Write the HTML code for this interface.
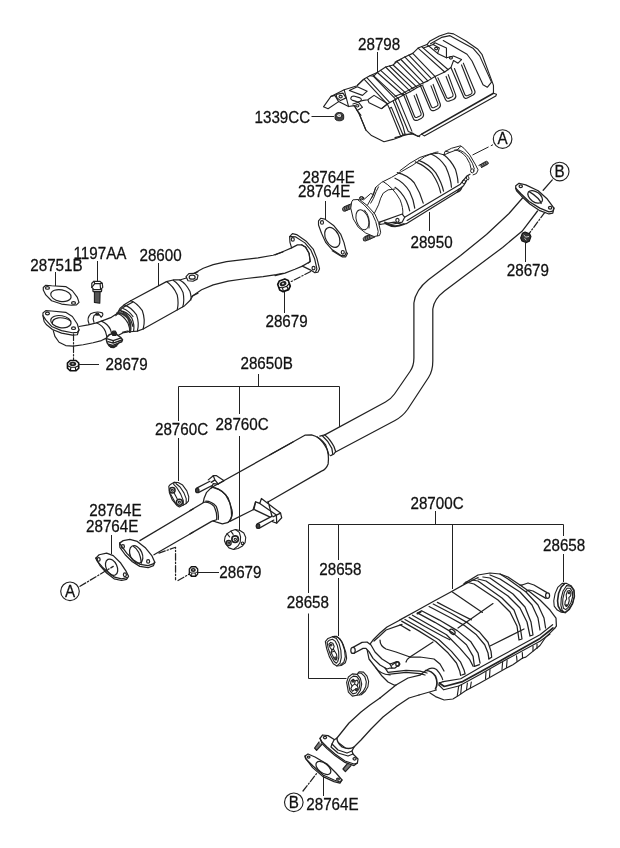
<!DOCTYPE html>
<html><head><meta charset="utf-8">
<style>
html,body{margin:0;padding:0;background:#fff;}
body{width:620px;height:848px;overflow:hidden;}
svg{display:block;will-change:transform;}
text{font-family:"Liberation Sans",sans-serif;font-size:15.2px;fill:#111;stroke:#111;stroke-width:0.25px;}
.l{stroke:#222;stroke-width:1;fill:none;}
.p{stroke:#222;stroke-width:1;fill:none;stroke-linejoin:round;stroke-linecap:round;}
.pw{fill:#fff;}
.d{stroke:#222;stroke-width:1;fill:none;stroke-dasharray:7 2 1.5 2;}
</style></head><body>
<svg width="620" height="848" viewBox="0 0 620 848">
<rect width="620" height="848" fill="#fff"/>

<!--PARTS-->
<!--conv-->
<g id="conv">
<g transform="translate(335,150) scale(0.16611)" class="p" style="stroke-width:6">
<!-- left part 6.02x -->
<!-- studs -->
<path d="M102 322L52 343Q40 352 48 366L58 369L108 348" style="fill:#777"/>
<path d="M60 341Q52 352 62 367M72 336Q64 348 73 362M84 331Q76 343 85 357" />
<path d="M232 500L178 522Q165 532 172 546L183 548L240 524" style="fill:#777"/>
<path d="M186 519Q178 531 188 546M198 514Q190 526 199 541M210 509Q202 521 211 536"/>
<!-- flange -->
<path d="M110 300L135 298L150 300L195 335L240 385L262 435L275 495L268 515L255 517L235 521L185 500L140 465L110 415L95 350L100 315Z" class="pw"/>
<path d="M135 298L175 330L225 385L245 430L260 490L255 517"/>
<ellipse cx="165" cy="420" rx="36" ry="62" transform="rotate(-18 165 420)"/>
<path d="M178 362Q215 400 205 470"/>
<ellipse cx="160" cy="290" rx="13" ry="10" class="pw"/>
<ellipse cx="160" cy="288" rx="7" ry="5"/>
<!-- cone + body top -->
<path d="M172 300L215 262L232 268L220 290"/>
<path d="M195 333L228 272L245 225L280 195L340 165L400 130L470 90L540 40L600 15L620 12"/>
<path d="M215 320L232 290L248 250L262 222"/>
<path d="M232 268L245 225"/>
<path d="M235 385L262 330L275 290L290 260L320 240L360 235"/>
<!-- ribs -->
<path d="M290 190Q350 225 392 300Q412 350 408 385"/>
<!-- lower shield -->
</g>
<g transform="translate(400,130) scale(0.16611)" class="p" style="stroke-width:6">
<!-- right part 6.02x -->
<path d="M0 245L60 200L120 165L180 145L230 140L265 150L270 130L310 110L365 95L385 110L420 150L455 210L470 240L460 262L440 270"/>
<path d="M275 128L300 135L345 118L365 100"/>
<path d="M265 150L300 135"/>
<path d="M330 120Q370 125 400 165Q425 200 430 240"/>
<path d="M345 118Q385 125 415 165Q440 200 448 235"/>
<!-- stud -->
<path d="M475 213L520 188Q532 190 532 203L490 226" style="fill:#777"/>
<path d="M488 207Q492 215 496 222M500 200Q504 208 508 216M512 194Q516 202 520 210"/>
<!-- ribs -->
<!-- lower shield -->
<ellipse cx="385" cy="312" rx="10" ry="12" class="pw"/>
<ellipse cx="435" cy="246" rx="10" ry="12" class="pw"/>
<path d="M400 280Q395 300 412 300Q420 290 412 280"/>
</g>
<g transform="translate(370,160) scale(0.16129)" class="p" style="stroke-width:7.4">
<!-- lower shield 6.2x -->
<path d="M60 385L200 335L215 355L560 150L600 100L620 88"/>
<path d="M230 375L560 175L580 160L600 125"/>
<path d="M60 400L150 385L200 400L225 395L540 200L555 178"/>
<path d="M60 385L60 400"/>
<path d="M90 385L130 400L200 385L215 355"/>
<path d="M100 395Q150 425 210 398" style="stroke-width:12"/>
<ellipse cx="170" cy="374" rx="10" ry="12" class="pw"/>
<path d="M540 200Q560 195 570 170"/>
</g>
<g transform="translate(395,150) scale(0.11290)" class="p" style="stroke-width:10.5">
<!-- ribs 8.857x -->
<path d="M0 330Q60 370 100 450Q122 500 130 540"/>
<path d="M0 250Q80 285 130 370Q165 440 175 515"/>
<path d="M20 200Q110 220 170 290Q225 380 250 470"/>
<path d="M180 105Q270 140 330 210Q390 300 405 380"/>
<path d="M210 92Q300 125 360 200Q415 290 430 365"/>
<path d="M320 35Q400 70 450 150Q495 250 500 330"/>
<path d="M430 40Q495 90 535 170Q558 250 558 290"/>
</g>
</g>
<!--/conv-->


<!--muff-->
<g id="muff">
<g transform="translate(350,580) scale(0.2)" class="p" style="stroke-width:6.25">
<!-- left part 5x -->
<!-- top outline -->
<path d="M85 345L100 320L115 300L150 265L185 235L250 200"/>
<!-- left end/bottom shell -->
<path d="M85 345L95 395L130 440L160 480L190 510L220 525L230 525"/>
<path d="M130 440Q150 470 200 475"/>
<!-- hanger rod -->
<path d="M15 337L60 312L85 310L105 325L125 360L160 395L200 420L235 408L250 420L225 440L200 440L185 445L150 425L115 392L95 358L80 342L65 342L20 366" class="pw"/>
<ellipse cx="15" cy="352" rx="11" ry="15" class="pw"/>
<path d="M210 425L235 408M200 420L210 440"/>
<ellipse cx="238" cy="420" rx="9" ry="12"/>
<!-- strap -->
<path d="M175 440L190 462L280 452L350 456L385 465"/>
<path d="M190 472L280 462L350 468L375 475"/>
<!-- inner contour -->
<path d="M120 305L140 288L180 250L260 222"/>
<path d="M150 300Q150 330 180 345L230 360L300 385L350 385L420 395L450 420L470 455"/>
<path d="M300 385L415 310"/>
<path d="M300 385Q285 395 280 410"/>
<!-- ribs -->
<!-- seam right of pipe -->
<!-- outlet pipe -->
<path d="M379 452L350 476L290 490L230 525L150 590"/>
<path d="M432 550L345 575"/>
</g>
<g transform="translate(440,560) scale(0.2)" class="p" style="stroke-width:6.25">
<!-- right part 5x -->
<path d="M120 118L190 75L250 65L300 70L340 85L400 125L450 160L500 200L550 250L580 290L582 330L573 342"/>
<!-- ribs -->
<path d="M130 110L170 120L290 200L350 260L385 330L395 400L410 395L400 330L370 250L310 190L190 105L160 100"/>
<path d="M190 95L230 105L340 180L400 240L435 310L450 380L465 375L455 310L425 235L365 170L250 90L215 85"/>
<path d="M250 75L300 95L400 160L460 225L490 290L500 350"/>
<path d="M300 70L340 95L430 160L490 225L520 290L528 340"/>
<!-- center lines -->
<path d="M62 160L212 262M265 218L90 340"/>
<path d="M250 430L420 345"/>
<!-- rod -->
<path d="M535 163L470 125L440 115L410 125M530 192L465 155L445 150L430 157"/>
<ellipse cx="538" cy="178" rx="10" ry="14" class="pw"/>
<path d="M400 125L410 125"/>
</g>
<g transform="translate(400,570) scale(0.16611)" class="p" style="stroke-width:7.55">
<!-- middle ribs 6.02x -->
<path d="M0 300L100 245L200 190L300 135L390 85L470 45"/>
<path d="M10 308L110 365L215 430L290 500L340 560L360 610L365 635"/>
<path d="M30 298L130 355L235 420L310 490L365 555L385 600L392 625L372 632"/>
<path d="M55 285L150 340L260 400L300 420"/>
<path d="M75 272L175 330L280 390L360 470L420 540L440 580"/>
<path d="M105 258L210 315L320 380L400 450L440 520L448 580L478 570"/>
<path d="M130 245L235 300L345 365L425 430L470 500L482 560"/>
<path d="M175 220L290 280L390 335L460 390L510 450L530 500L535 535"/>
<path d="M200 205L310 262L410 320L480 375L530 435L548 490L552 525L535 535"/>
<path d="M225 195L330 250L430 300"/>
<path d="M0 330L60 365"/>
<ellipse cx="315" cy="372" rx="19" ry="12" transform="rotate(40 315 372)"/>
<path d="M105 262L125 250" style="stroke-width:12"/>
</g>
<g id="seam" class="p" style="stroke-width:1.15">
<path d="M426.8 670Q431.6 666.5 436.5 669.5Q441.5 675 442.7 679.7"/>
<path d="M425.8 670.5Q431.5 670.5 435.5 676.3Q438.5 683 435.5 688.9" style="stroke-width:1.7"/>
<path d="M443.2 681.6L460.7 678.7L480 667.6L500 656.5L540 634.8L552.6 624.7"/>
<path d="M439.4 683L444.2 686.5L462.6 681.6L480 672L500 661L540 638.4L553 628" style="stroke-width:1.7"/>
<path d="M438.9 685L443.7 689.8L458.7 686L462.6 684L480 674.5L500 662.9L540 641.3L550 634"/>
<path d="M439.4 683L443.2 681.6M438.9 685L439.4 683"/>
<path d="M429.7 692.8L435.5 696.6L444.2 700L452.9 699L457.8 696.1L465.5 690.8L480 683L506.5 668L512.9 664.8L522.6 658L525.8 657.1L540 645.5L545.3 637.7L554.7 628.3"/>
<path d="M458.7 686L457.3 695.7M461.6 685L460.7 693.7M467.4 683L466.5 689.8M471.3 682L470.3 688M486 671.5L485.5 679M490 669.5L489.5 677M502.6 662.3L502 669.5M507.1 660.3L506.5 667.4M516.5 655.8L517.1 661.5M522.3 652.6L522.6 658.4M533 646L533 651M537 644L537 648.5"/>
</g>
<g transform="translate(295,680) scale(0.2)" class="p" style="stroke-width:6.25">
<!-- bottom pipe + flange 5x -->
<path d="M425 90L375 125L330 160L270 215L230 265L210 290"/>
<path d="M620 75L570 90L510 130L440 185L380 245L330 300L295 335"/>
<!-- studs -->
<path d="M120 310L98 340L108 352L135 322" style="fill:#777"/>
<path d="M262 418L240 445L252 458L280 428" style="fill:#777"/>
<!-- flange -->
<path d="M125 292L138 275L165 278L200 300L290 370L315 395L312 415L295 428L250 412L200 378L160 343L135 318Z" class="pw"/>
<path d="M125 292L135 310L160 335L200 370L250 405L295 420L312 415"/>
<ellipse cx="150" cy="288" rx="8" ry="6"/>
<ellipse cx="298" cy="394" rx="8" ry="6"/>
<!-- ring -->
<path d="M210 290L195 300L185 320L180 335L215 365L265 380L290 370L285 355L295 335Q270 350 235 335Q210 315 210 290Z" class="pw"/>
<path d="M185 320L215 350L260 365L285 355"/>
<!-- gasket -->
<path d="M50 380L65 370L100 385L160 420L205 465L235 500L225 510L195 500L140 475L90 430L55 395Z" class="pw"/>
<path d="M50 380L52 390L88 438L140 483L195 508L225 516L235 500"/>
<ellipse cx="142" cy="440" rx="43" ry="24" transform="rotate(38 142 440)"/>
<ellipse cx="68" cy="385" rx="7" ry="5"/>
<ellipse cx="215" cy="495" rx="7" ry="5"/>
<path d="M40 555L110 465" style="stroke-dasharray:34 10 6 10"/>
</g>
</g>
<!--/muff-->


<!--reso-->
<g id="reso">
<g transform="translate(190,440) scale(0.16611)" class="p" style="stroke-width:7.55">
<!-- 6.02x left part of resonator -->
<!-- stud upper-left -->
<path d="M120 248L40 290Q30 300 38 314L50 317L130 275" class="pw"/>
<ellipse cx="44" cy="304" rx="10" ry="13" style="fill:#444"/>
<path d="M110 240L140 215L160 215L205 245L170 265L140 262L128 290"/>
<path d="M140 215L150 240L170 265M150 240L128 255"/>
<!-- body edges -->
<path d="M135 283L620 12"/>
<path d="M240 490L380 420"/>
<!-- end cap -->
<path d="M130 285Q175 285 215 330Q250 385 255 440Q252 480 225 498L195 505L160 495L140 487"/>
<path d="M150 290Q195 300 230 350Q252 405 250 460Q245 485 232 494"/>
<path d="M130 285L100 315L85 350L80 375"/>
<!-- neck ring -->
<path d="M80 375Q115 368 145 400Q165 440 160 480L140 487"/>
<path d="M95 368Q130 368 158 400Q175 440 170 478"/>
<path d="M0 425L80 378M0 565L130 490L140 487"/>
<!-- lower bracket -->
<path d="M380 420L395 372L420 382L430 352L545 440L552 468L522 500L497 492L495 465L470 370" />
<path d="M395 372L385 418L495 470"/>
<path d="M420 382L520 452L545 440M520 452L522 500M495 465L520 452"/>
<path d="M495 458L405 505Q395 515 402 530L415 532L505 482" class="pw"/>
<ellipse cx="410" cy="518" rx="10" ry="13" style="fill:#444"/>
</g>
<g transform="translate(270,400) scale(0.16611)" class="p" style="stroke-width:7.55">
<!-- right end 6.02x -->
<path d="M0 330L210 212L250 210Q300 222 335 270Q358 330 350 385Q338 418 310 428L-12 614"/>
<path d="M300 218L330 210Q362 235 385 280L395 310L385 325L365 335"/>
<path d="M285 222Q322 250 345 300L355 332"/>
<path d="M315 215Q350 245 372 290L378 326"/>
</g>
<g transform="translate(90,480) scale(0.16611)" class="p" style="stroke-width:7.55">
<!-- front flange, gasket 6.02x -->
<path d="M300 365L620 175M385 450L620 315"/>
<path d="M178 380L200 365L240 358L285 370L335 410L372 455L390 495L382 515L350 528L300 520L255 492L212 450L180 405Z" class="pw"/>
<path d="M178 380L190 398L222 442L262 482L302 508L350 516L380 505L390 495"/>
<ellipse cx="278" cy="448" rx="36" ry="56" transform="rotate(-25 278 448)"/>
<path d="M262 400Q300 420 310 500"/>
<ellipse cx="198" cy="400" rx="9" ry="11"/>
<ellipse cx="350" cy="490" rx="9" ry="11"/>
<!-- dash-dot -->
<path d="M415 440L515 405L515 600M530 605L600 565" style="stroke-dasharray:40 12 8 12"/>
<!-- gasket -->
<path d="M35 470L55 450L100 440L140 455L185 500L215 545L232 580L220 598L190 605L145 595L100 560L60 515Z" class="pw"/>
<path d="M35 470L45 490L75 525L105 552L148 585L190 595L222 588"/>
<ellipse cx="130" cy="525" rx="33" ry="52" transform="rotate(-25 130 525)"/>
<ellipse cx="52" cy="478" rx="9" ry="11"/>
<ellipse cx="210" cy="570" rx="9" ry="11"/>
<path d="M-60 640L140 520" style="stroke-dasharray:40 12 8 12"/>
<!-- nut -->
</g>
</g>
<!--/reso-->

<!--longpipe-->
<g id="longpipe">
<g class="p" style="stroke-width:1.24">
<path d="M522.5 198L509 213.5L486.5 234.5L460.6 255.5L428.4 279.7Q415.5 290 413.9 303L413.9 358Q413.9 366 410 371.5L394.5 394Q391 399 385.5 402L324.8 434.9"/>
<path d="M537.5 211L522 231.3L502.6 247.4L476.8 266.8L444.5 291Q434 299 432.8 309L432.8 361Q432.8 371 428.5 377.5L407.5 409.5Q402.5 416.5 395 420.5L335.6 452"/>
</g>
<g transform="translate(490,155) scale(0.16611)" class="p" style="stroke-width:7.55">
<path d="M155 185L175 170L215 180L290 215L345 265L385 320L378 350L355 355L300 335L240 295L190 248L160 215L155 200Z" class="pw"/>
<path d="M155 200L185 232L235 280L300 320L355 342L378 338L385 320"/>
<ellipse cx="272" cy="252" rx="50" ry="30" transform="rotate(36 272 252)"/>
<path d="M238 222Q262 235 290 262Q305 280 308 292"/>
<ellipse cx="185" cy="188" rx="10" ry="8"/>
<ellipse cx="362" cy="318" rx="10" ry="8"/>
<path d="M375 150L320 212"/>
<path d="M330 345L230 480" style="stroke-dasharray:40 12 8 12"/>
<!-- nut -->
</g>
</g>
<!--/longpipe-->

<!--p600-->
<g id="p600">
<g transform="translate(30,270) scale(0.16611)" class="p" style="stroke-width:7.08">
<!-- gasket 28751B -->
<path d="M80 105L95 92L130 95L215 100L255 125L285 165L295 195L280 210L250 212L190 205L130 185L95 150L80 120Z" class="pw"/>
<ellipse cx="186" cy="154" rx="62" ry="35" transform="rotate(10 186 154)"/>
<ellipse cx="105" cy="108" rx="12" ry="8"/>
<ellipse cx="262" cy="198" rx="12" ry="8"/>
<!-- elbow pipe -->
<path d="M140 365L150 400L175 435L215 455L260 458L320 450L380 438L430 425L460 410"/>
<path d="M295 340L350 330L400 318L450 300L490 285L520 265L540 245"/>
<!-- flange -->
<path d="M78 258L95 245L130 247L215 255L255 280L285 325L295 360L285 390L255 392L190 380L135 358L100 330L85 310L78 275Z" class="pw"/>
<path d="M78 275L95 300L130 340L190 365L255 378L285 375L295 360"/>
<ellipse cx="186" cy="311" rx="62" ry="36" transform="rotate(10 186 311)"/>
<path d="M135 325Q130 295 170 288Q215 285 240 305"/>
<ellipse cx="105" cy="262" rx="12" ry="8"/>
<ellipse cx="262" cy="350" rx="12" ry="8"/>
<!-- hook -->
<path d="M355 322Q340 290 365 264Q400 245 435 258Q445 270 428 284L418 270Q400 262 385 275Q375 295 385 315"/>
<ellipse cx="405" cy="266" rx="9" ry="6"/>
<!-- band -->
<path d="M400 318Q440 335 455 372L465 410"/>
<path d="M430 308Q470 325 485 360L495 395"/>
<!-- clamp bolt -->
<!-- bolt 1197AA -->
<path d="M372 80L385 68L420 68L435 80L438 105L425 118L385 118L372 105Z" class="pw"/>
<path d="M385 68L390 82L372 105M390 82L422 82L435 80M422 82L425 118"/>
<path d="M378 118L432 118L430 130L380 130Z" class="pw"/>
<path d="M388 130L388 195L420 200L422 130Z" style="fill:#555"/>
<!-- dashed to nut -->
<path d="M262 385L262 540" style="stroke-dasharray:40 12 8 12"/>
<!-- nut -->
<!-- flex ring right -->
<path d="M540 245L560 225L620 192"/>
<path d="M525 260Q565 275 590 320Q602 350 600 372"/>
<path d="M545 245Q585 262 608 305L620 340"/>
<path d="M560 232Q595 245 620 280"/>
</g>
<g transform="translate(95,265) scale(0.16611)" class="p" style="stroke-width:7.08">
<!-- small cat body 6.02x -->
<path d="M215 215L430 100L470 90L510 90L545 80L620 40"/>
<path d="M290 385L540 245L570 215L590 185L620 170"/>
<path d="M215 215Q250 225 285 275Q305 330 290 385"/>
<path d="M175 240Q212 250 250 300Q268 350 255 398"/>
<path d="M215 215L175 240L150 262L135 290"/>
<path d="M290 385L255 398L210 402"/>
<path d="M135 290Q170 285 200 320Q220 365 210 402" style="stroke-width:14;stroke:#333"/>
<path d="M150 275Q190 280 222 320Q240 360 232 400"/>
<path d="M125 305L140 290M165 405L195 397L210 402"/>
<path d="M470 92Q505 112 530 165Q540 215 528 252"/>
<path d="M510 90Q548 110 572 160Q582 195 576 212"/>
<path d="M430 100Q470 125 495 180Q505 230 495 270"/>
<!-- O2 boss -->
<path d="M548 70L565 52L600 50L620 62L615 85L590 98L560 95Z" class="pw"/>
<ellipse cx="585" cy="73" rx="18" ry="12"/>
</g>
<g transform="translate(180,240) scale(0.16611)" class="p" style="stroke-width:7.08">
<!-- pipe 6.02x -->
<path d="M85 200L140 170L200 148L280 130L380 118L470 108L560 92L620 72"/>
<path d="M70 340L130 300L200 270L290 248L400 232L500 220L580 208L620 200"/>
</g>
</g>
<g id="clamp" transform="translate(85,305) scale(0.080645)" class="p" style="stroke-width:15">
<path d="M420 372L480 342L520 336L560 322"/>
<path d="M270 400L300 370L340 355L400 370L440 400L465 430L455 455L420 470L390 500L340 520L300 505L275 470L265 430Z" class="pw" style="stroke-width:19"/>
<path d="M330 348L345 325L375 325L392 350L380 378L345 378Z" style="fill:#222"/>
<path d="M280 420L350 442L440 410M285 455L350 472L450 437M300 490L345 502L400 480M350 442L350 472" style="stroke-width:17"/>
<path d="M300 500L320 525L360 528L395 505" />
</g>
<!--/p600-->

<!--gask1-->
<g id="gask1" transform="translate(275,205) scale(0.16611)" class="p" style="stroke-width:7.08">
<!-- gasket -->
<path d="M262 95L275 80L300 85L355 125L395 175L415 225L430 285L420 305L400 305L345 270L305 225L280 170L262 120Z" class="pw"/>
<path d="M430 285L436 292L426 312L404 312L345 276"/>
<ellipse cx="345" cy="195" rx="40" ry="64" transform="rotate(-27 345 195)"/>
<ellipse cx="283" cy="105" rx="9" ry="11"/>
<ellipse cx="408" cy="285" rx="9" ry="11"/>
<!-- flange on pipe 28600 -->
<path d="M88 190L105 172L130 178L190 220L230 265L252 320L268 385L258 405L240 408L215 392L165 368L212 340L205 290L185 255L160 240L135 240L100 258L90 225Z" class="pw"/>
<path d="M100 190L125 192L180 228L215 270L238 322L252 385L245 402"/>
<path d="M88 190L100 190"/>
<ellipse cx="107" cy="207" rx="9" ry="11"/>
<ellipse cx="232" cy="380" rx="9" ry="11"/>
<!-- pipe end -->
<path d="M0 300L60 275L100 258M165 368L120 387L60 410L0 425"/>
<path d="M160 240L185 255L205 290L212 340L200 350"/>
<!-- dash-dot to nut -->
<path d="M215 400L95 462" style="stroke-dasharray:40 12 8 12"/>
<!-- nut -->
</g>
<!--/gask1-->


<!--shield-->
<g id="shield">
<g transform="translate(320,78) scale(0.12422)" class="p" style="stroke-width:8.97">
<!-- tab (8.05x) -->
<path d="M345 15L300 62L195 95L88 148L28 232L65 248L150 190L230 230L275 222L315 290L370 419"/>
<path d="M88 148L120 140L150 190"/>
<path d="M130 132L185 122L210 160L165 182L135 158Z"/>
<ellipse cx="166" cy="150" rx="13" ry="10"/>
<path d="M195 95L230 230"/>
<path d="M236 100L300 70L380 106L342 140Z"/>
<path d="M248 165Q250 145 272 145L322 160Q340 170 328 185Q315 195 295 190L258 178Q246 172 248 165Z"/>
<path d="M265 210L310 195L342 236L300 262L275 222"/>
<ellipse cx="300" cy="224" rx="13" ry="10"/>
<path d="M330 185L350 180L385 175L435 140L545 208L495 247L395 200L385 175"/>
<path d="M300 262L330 300"/>
</g>
<g transform="translate(320,60) scale(0.16613)" class="p" style="stroke-width:6.73">
<!-- left body (6.02x) -->
<path d="M480 0L465 6L440 30L395 42L345 75L300 95L265 115L225 152"/>
<path d="M235 320L275 420L310 455L385 492L440 478L490 460L500 447L560 447L600 462"/>
<path d="M372 292L405 265L440 245L500 212L545 190L585 165L620 150"/>
<path d="M405 265L418 292L482 450L490 460"/>
<path d="M440 248L452 275L500 400L512 447"/>
<path d="M418 292L430 285L498 447"/>
<path d="M265 115L405 265"/>
<path d="M282 106L420 256"/>
<path d="M300 95L322 98L458 238"/>
<path d="M322 98L345 75"/>
<path d="M319 91L472 232"/>
<path d="M345 75L500 212"/>
<path d="M365 62L520 202"/>
<path d="M395 42L545 190"/>
<path d="M418 36L565 178"/>
<path d="M440 30L585 165"/>
</g>
<g transform="translate(395,25) scale(0.17743)" class="p" style="stroke-width:6.37">
<!-- right body (5.636x) -->
<path d="M0 210L55 180L100 160L130 130L180 110L195 92L250 62L300 45L330 50L400 90L465 135L490 165L555 340L555 385L572 390L568 400L165 625L150 615L130 628L100 610L40 625L0 635"/>
<path d="M150 615L555 385" style="stroke-width:9"/>
<path d="M200 106L262 70L310 60L439 131L477 174L544 322L520 351L496 337L434 203L406 165L272 88"/>
<path d="M0 402L45 385L90 360L140 335L185 315L225 290L280 265L315 240L330 200"/>
<path d="M10 205L140 335"/>
<path d="M32 193L160 325"/>
<path d="M55 180L185 315"/>
<path d="M78 170L205 302"/>
<path d="M100 160L225 290"/>
<path d="M130 130L280 265"/>
<path d="M150 122L300 252"/>
<path d="M160 130L215 110L250 130L240 160L290 185L330 175L375 195L355 215L330 200"/>
<path d="M180 110L240 160"/>
<ellipse cx="232" cy="133" rx="9" ry="7"/>
<ellipse cx="315" cy="185" rx="9" ry="7"/>
<path d="M215 110L225 100L290 130L290 185"/>
<!-- U embossments -->
<path d="M45 385L100 520Q108 545 130 535L150 525Q165 515 160 500L120 390"/>
<path d="M62 395L108 510Q112 525 125 520L140 513Q150 508 147 498L108 398"/>
<path d="M140 335L195 465Q203 490 225 480L245 470Q260 460 255 445L215 335"/>
<path d="M157 345L203 455Q207 470 220 465L235 458Q245 453 242 443L203 343"/>
<path d="M225 290L280 410Q288 437 310 427L330 420Q347 410 342 395L300 280"/>
<path d="M242 298L288 402Q292 417 305 412L320 406Q330 401 327 391L288 290"/>
<path d="M315 240L385 400Q392 420 410 410L440 395Q455 385 450 372L385 215"/>
<path d="M335 245L393 390Q397 402 410 397L427 390Q437 385 434 375L375 225"/>
<!-- lower left lines on side -->
<path d="M0 420L75 600L100 610"/>
<path d="M18 412L95 598"/>
</g>
</g>
<!--/shield-->


<!--hang-->
<g id="hang">
<g transform="translate(162,478) scale(0.06452)" class="p" style="stroke-width:17">
<!-- 15.5x 28760C hanger 1 -->
<path d="M105 130L130 100L190 65L250 70L320 110L385 200L415 290L410 360L370 400L330 420L270 450L230 425L160 340L115 230Z" class="pw"/>
<path d="M190 65L180 100L230 150L290 250L330 350L330 420"/>
<path d="M215 85L280 140L340 230L375 320L375 395"/>
<circle cx="160" cy="190" r="42" style="stroke-width:24"/><circle cx="160" cy="190" r="16"/>
<circle cx="270" cy="375" r="46" style="stroke-width:24"/><circle cx="270" cy="375" r="16"/>
<path d="M190 235L235 320M130 245L215 400"/>
</g>
<g transform="translate(218,524) scale(0.06452)" class="p" style="stroke-width:17">
<!-- 15.5x 28760C hanger 2 -->
<path d="M110 200L140 150L200 110L270 85L340 100L400 140L430 210L420 290L380 340L310 380L240 395L170 370L120 310L100 260Z" class="pw"/>
<path d="M270 85L330 130L350 200L345 280L310 340L240 395"/>
<circle cx="265" cy="235" r="50" style="stroke-width:26"/><circle cx="268" cy="238" r="18"/>
<circle cx="165" cy="295" r="38" style="stroke-width:22"/><circle cx="165" cy="295" r="14"/>
<circle cx="380" cy="300" r="20"/>
<path d="M200 110L235 160M140 150L180 200"/>
</g>
<g transform="translate(320,630) scale(0.08873)" class="p" style="stroke-width:12.5">
<!-- 11.27x 28658 hangers left -->
<path d="M60 130L90 95L140 75L185 70L225 100L260 160L290 250L300 320L285 370L240 400L190 405L150 380L105 300L75 210Z" class="pw"/>
<path d="M140 75L185 95L215 150L235 230L240 310L225 375L190 405"/>
<path d="M165 72L205 85L245 130L275 220L285 300L270 360L230 395"/>
<path d="M80 140L105 115L140 105L170 125L195 175L210 245L212 310L200 355L185 375L160 355L120 285L92 205Z"/>
<path d="M100 160L120 140L145 150L160 185L150 215L165 240L185 270L192 315L180 340L160 325L140 285L125 250L135 225L115 200Z"/>
<circle cx="125" cy="170" r="10"/><circle cx="175" cy="315" r="10"/>
<path d="M135 225L150 215M125 250L165 240" />
<!-- hanger 2 -->
<path d="M300 590L320 530L365 495L420 500L440 470L490 475L530 520L548 580L540 640L510 690L465 730L415 735L365 745L320 700Z" class="pw"/>
<path d="M420 500L455 545L470 610L455 680L415 735"/>
<path d="M430 485L465 487L505 525L522 585L515 640L488 690L445 728"/>
<path d="M320 595L340 545L375 520L415 525L440 560L450 610L440 665L405 710L370 720L338 685Z"/>
<path d="M350 575L375 555L395 575L420 565L432 595L418 625L430 655L412 685L388 672L365 690L348 660L362 630L345 600Z"/>
<circle cx="372" cy="578" r="9"/><circle cx="408" cy="668" r="9"/>
<path d="M395 575L390 610L418 625M362 630L390 610"/>
</g>
<g transform="translate(540,575) scale(0.08873)" class="p" style="stroke-width:12.5">
<!-- right hanger 11.27x -->
<path d="M250 95L300 95L350 120L385 170L390 240L370 320L330 390L285 425L240 420L195 395L160 350L155 290L170 210L200 140Z" class="pw"/>
<path d="M300 120L260 180L240 260L235 340L250 400L285 425"/>
<path d="M275 100L240 135L210 205L198 290L205 350L230 395L262 418" style="stroke-width:18"/>
<path d="M300 120L345 125L380 175L385 245L365 320L325 385L285 420"/>
<path d="M305 150L340 150L365 190L368 245L350 310L318 365L290 390L265 375L255 330L258 265L275 195Z"/>
<path d="M310 180L335 175L350 200L345 235L325 255L330 290L318 330L298 350L280 335L285 295L300 270L295 225Z"/>
<circle cx="328" cy="202" r="10"/><circle cx="298" cy="345" r="10"/>
</g>
</g>
<!--/hang-->
<g id="nut1339" class="p">
<path d="M335 116Q335 112.5 339.3 112.5Q343.7 112.5 343.7 116L343.7 118Q343.7 120.8 339.3 120.8Q335 120.8 335 118Z" style="fill:#444"/>
<ellipse cx="339.3" cy="115.6" rx="2.7" ry="2" style="fill:#eee;stroke:#222;stroke-width:0.9"/>
<ellipse cx="339.3" cy="115.6" rx="1" ry="0.7" style="fill:#888;stroke:none"/>
</g>
<path class="l" d="M472.5 155L493 144.7" style="stroke-dasharray:18 2.5 2.5 10"/>
<g id="nuts">
<g transform="translate(73.1,365.6) scale(1.12,1.02)">
<path d="M-5 -2.6L-2.6 -5L2.6 -5L5 -2.6L5 2.6L2.6 5L-2.6 5L-5 2.6Z" fill="#fff" stroke="#111" stroke-width="1.5" stroke-linejoin="round"/>
<ellipse cx="-0.3" cy="-1.6" rx="3.1" ry="2.1" fill="#222"/>
<ellipse cx="-0.3" cy="-1.7" rx="1.1" ry="0.7" fill="#ccc"/>
<path d="M-5 0.2L-2 1.6L2 1.6L5 0.2M-2 1.6L-2.4 5M2 1.6L2.4 5" stroke="#111" stroke-width="1" fill="none"/>
</g>
<g transform="translate(284,285.3) scale(1.12,1.14) rotate(-20)">
<path d="M-5 -2.6L-2.6 -5L2.6 -5L5 -2.6L5 2.6L2.6 5L-2.6 5L-5 2.6Z" fill="#fff" stroke="#111" stroke-width="1.5" stroke-linejoin="round"/>
<ellipse cx="-0.3" cy="-1.6" rx="3.1" ry="2.1" fill="#222"/>
<ellipse cx="-0.3" cy="-1.7" rx="1.1" ry="0.7" fill="#ccc"/>
<path d="M-5 0.2L-2 1.6L2 1.6L5 0.2M-2 1.6L-2.4 5M2 1.6L2.4 5" stroke="#111" stroke-width="1" fill="none"/>
</g>
<g transform="translate(525.8,237.3) scale(0.92,0.95) rotate(20)">
<path d="M-5 -2.6L-2.6 -5L2.6 -5L5 -2.6L5 2.6L2.6 5L-2.6 5L-5 2.6Z" fill="#333" stroke="#111" stroke-width="1.2" stroke-linejoin="round"/>
<path d="M-3 -1.5L0 -0.2L3 -2M-1 1.5L1.5 2.5" stroke="#ddd" stroke-width="0.9" fill="none"/>
</g>
<g transform="translate(193.5,571.5) scale(0.84,0.96)">
<path d="M-5 -2.6L-2.6 -5L2.6 -5L5 -2.6L5 2.6L2.6 5L-2.6 5L-5 2.6Z" fill="#fff" stroke="#111" stroke-width="1.5" stroke-linejoin="round"/>
<ellipse cx="-0.3" cy="-1.6" rx="3.1" ry="2.1" fill="#222"/>
<ellipse cx="-0.3" cy="-1.7" rx="1.1" ry="0.7" fill="#ccc"/>
<path d="M-5 0.2L-2 1.6L2 1.6L5 0.2M-2 1.6L-2.4 5M2 1.6L2.4 5" stroke="#111" stroke-width="1" fill="none"/>
</g>
</g>
<!--LABELS-->
<g id="labels">
<text x="358" y="48.16" transform="scale(1,1.03)">28798</text>
<text x="254.5" y="119.71" transform="scale(1,1.03)">1339CC</text>
<text x="302.5" y="177.48" transform="scale(1,1.03)">28764E</text>
<text x="298" y="191.36" transform="scale(1,1.03)">28764E</text>
<text x="410.5" y="241.07" transform="scale(1,1.03)">28950</text>
<text x="506.8" y="267.77" transform="scale(1,1.03)">28679</text>
<text x="73.5" y="251.07" transform="scale(1,1.03)">1197AA</text>
<text x="30.3" y="262.72" transform="scale(1,1.03)">28751B</text>
<text x="139.5" y="253.50" transform="scale(1,1.03)">28600</text>
<text x="265.5" y="317.28" transform="scale(1,1.03)">28679</text>
<text x="105.5" y="359.02" transform="scale(1,1.03)">28679</text>
<text x="240.5" y="357.86" transform="scale(1,1.03)">28650B</text>
<text x="155" y="422.62" transform="scale(1,1.03)">28760C</text>
<text x="215.5" y="417.28" transform="scale(1,1.03)">28760C</text>
<text x="89.3" y="500.78" transform="scale(1,1.03)">28764E</text>
<text x="86" y="516.12" transform="scale(1,1.03)">28764E</text>
<text x="219.3" y="561.45" transform="scale(1,1.03)">28679</text>
<text x="410.5" y="494.27" transform="scale(1,1.03)">28700C</text>
<text x="543" y="535.05" transform="scale(1,1.03)">28658</text>
<text x="319.3" y="557.86" transform="scale(1,1.03)">28658</text>
<text x="286.8" y="590.09" transform="scale(1,1.03)">28658</text>
<text x="306.3" y="786.50" transform="scale(1,1.03)">28764E</text>
<g>
<circle class="l" cx="502.6" cy="139" r="9.3" style="stroke-width:1.15"/><text x="502.6" y="136.23" text-anchor="middle" transform="scale(1,1.06)">A</text>
<circle class="l" cx="559.7" cy="171.5" r="9.3" style="stroke-width:1.15"/><text x="559.7" y="166.89" text-anchor="middle" transform="scale(1,1.06)">B</text>
<circle class="l" cx="70" cy="591.3" r="9.3" style="stroke-width:1.15"/><text x="70" y="562.92" text-anchor="middle" transform="scale(1,1.06)">A</text>
<circle class="l" cx="293.8" cy="802.3" r="9.3" style="stroke-width:1.15"/><text x="293.8" y="761.98" text-anchor="middle" transform="scale(1,1.06)">B</text>
</g>
</g>
<g id="leaders" class="l">
<path d="M377.5 52V72"/>
<path d="M311.5 116.5H334"/>
<path d="M325.5 201V220"/>
<path d="M429.5 212V231"/>
<path d="M525.5 242V262"/>
<path d="M97.5 261V281"/>
<path d="M55.5 272V286"/>
<path d="M158.5 263V286"/>
<path d="M284.5 292V313"/>
<path d="M78 364.5H99"/>
<path d="M258.5 374V386.5"/>
<path d="M178.5 421V386.5H339.5V427"/>
<path d="M178.5 438V481"/>
<path d="M239.5 386.5V414"/>
<path d="M239.5 436V531"/>
<path d="M111.5 535V554"/>
<path d="M198 572.5H219"/>
<path d="M435.5 511V524.5"/>
<path d="M308.5 593V524.5H563.5V536"/>
<path d="M346.5 678.5H308.5V613.5"/>
<path d="M563.5 554V582"/>
<path d="M338.5 524.5V560"/>
<path d="M338.5 578V636"/>
<path d="M452.5 524.5V589"/>
<path d="M323.5 775V796"/>
</g>
</svg>
</body></html>
